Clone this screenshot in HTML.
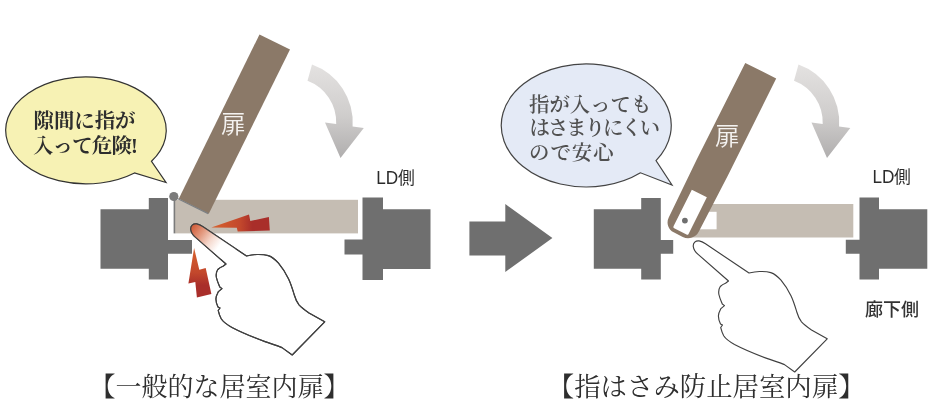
<!DOCTYPE html>
<html lang="ja">
<head>
<meta charset="utf-8">
<title>指はさみ防止居室内扉</title>
<style>
html,body{margin:0;padding:0;background:#fff;}
body{width:928px;height:404px;overflow:hidden;position:relative;}
svg{position:absolute;left:0;top:0;display:block;will-change:transform;}
.mincho{font-family:"Liberation Serif","Noto Serif CJK JP","Noto Serif CJK SC",serif;}
.gothic{font-family:"Liberation Sans","Noto Sans CJK JP","Noto Sans CJK SC",sans-serif;}
</style>
</head>
<body>
<svg width="928" height="404" viewBox="0 0 928 404">
<defs>
  <linearGradient id="gArrow" x1="0" y1="0" x2="0" y2="1">
    <stop offset="0" stop-color="#e4e2e1"/>
    <stop offset="0.55" stop-color="#cfcdcc"/>
    <stop offset="1" stop-color="#b0aeae"/>
  </linearGradient>
  <linearGradient id="gBolt1" x1="0" y1="0" x2="1" y2="0">
    <stop offset="0" stop-color="#d8632f"/>
    <stop offset="0.5" stop-color="#c2472c"/>
    <stop offset="0.7" stop-color="#a92e2a"/>
    <stop offset="1" stop-color="#a92e2a"/>
  </linearGradient>
  <linearGradient id="gBolt2" x1="0" y1="0" x2="0" y2="1">
    <stop offset="0" stop-color="#d8632f"/>
    <stop offset="0.5" stop-color="#c2472c"/>
    <stop offset="0.75" stop-color="#a92e2a"/>
    <stop offset="1" stop-color="#a92e2a"/>
  </linearGradient>
  <linearGradient id="gFinger" gradientUnits="userSpaceOnUse" x1="192" y1="228" x2="222" y2="250">
    <stop offset="0" stop-color="#d2603d"/>
    <stop offset="0.3" stop-color="#e39a80"/>
    <stop offset="0.6" stop-color="#f5d9ce"/>
    <stop offset="0.88" stop-color="#ffffff"/>
    <stop offset="1" stop-color="#ffffff"/>
  </linearGradient>
  <path id="hand" d="M190.8 229.6 C190.3 225.8 193.2 223.4 196.6 223.9 C199 224.3 201 225.4 203 226.8 L246.5 256 C250 255.2 253.5 254.6 257 254.5 C261 254.4 265 254.6 268.3 255.6 C272.5 257 275.5 259.8 278.5 263.2 C282.5 268 286 273.5 288.6 279 C291 284 292.6 289.5 294.3 295 C295.4 298.8 296.6 302 299 304.8 C302 308 305.5 310.5 309 313 L324.7 321.8 L292.2 355 L282 347.6 C277 345.5 270 343.4 265 341.6 C254 337.6 242.5 333 232 327.5 C227.5 325 223.4 322.3 221.2 318.8 C219.4 315.6 218.8 313 218.2 310.5 L220 308 L218 307 C216.6 304 215.9 301.5 215.9 299 C216 296.2 217.3 293.7 218.4 291.6 L222 288.6 L219.8 287 C218.6 284 217 280.5 216.4 277.5 C215.9 274.5 216.4 271.5 217.8 269.5 C219.6 267.6 221.2 266.8 223 266.2 L226 264 L195.6 237.4 C193 235.2 191.3 233 190.8 229.6 Z"/>
  <path id="doorShape" d="M-4.5 -16.6 L60 -17.6 L168 -17.4 L168 17.2 L60 17.4 L-3.5 16.6 A12 12 0 0 1 -15.5 4.6 V-5.6 A11 11 0 0 1 -4.5 -16.6 Z"/>
</defs>

<!-- ================= LEFT DIAGRAM ================= -->
<!-- walls -->
<g fill="#6f6f6f">
  <path d="M100.5 209.3H148.8V198H168V240H192V253.8H168V279.5H148.8V268.8H100.5Z"/>
  <path d="M362.5 197.5H383V209.3H430.5V269H383V280H362.5V254.5H344.5V239.5H362.5Z"/>
</g>
<!-- closed-door panel -->
<rect x="175" y="199.8" width="183" height="33.6" fill="#c5bdb3"/>
<!-- frame line -->
<path d="M174.4 197V233.4" stroke="#7b7b7b" stroke-width="1.6" fill="none"/>
<!-- open door -->
<polygon points="259.5,34.5 290,49.5 208.75,213.75 178.75,198.75" fill="#8b7968"/>
<path d="M174 196.6L178.5 199 208.2 213.6" stroke="#7d8084" stroke-width="1.3" fill="none"/>
<circle cx="173.8" cy="196.5" r="4.6" fill="#7b7b7b"/>
<text class="gothic" x="233.4" y="132.6" font-size="24.6" font-weight="350" fill="#fff" fill-opacity="0.9" text-anchor="middle">扉</text>
<!-- curved arrow -->
<path id="carrow" d="M312 64.5 A61.3 61.3 0 0 1 352.6 126.4 L363.8 128 L340.5 158 L325 122.5 L336.2 124 A44.5 44.5 0 0 0 307.5 80.8 Z" fill="url(#gArrow)"/>
<!-- bolts -->
<polygon points="211.3,227.4 249,214.4 250.3,221 268.9,217.1 269.8,230.6 237.7,231.4 236.8,227.7" fill="url(#gBolt1)"/>
<polygon points="194.1,248 199.3,269.7 205.7,268.1 211.4,293.9 196.9,297.6 195.3,282.1 188.4,283.4" fill="url(#gBolt2)"/>
<!-- hand -->
<use href="#hand" fill="#fff" stroke="#404040" stroke-width="1.15" stroke-linejoin="round"/>
<path d="M190.8 229.6 C190.3 225.8 193.2 223.4 196.6 223.9 C199 224.3 201 225.4 203 226.8 L236 249 L221 259 L195.6 237.4 C193 235.2 191.3 233 190.8 229.6 Z" fill="url(#gFinger)"/>
<use href="#hand" fill="none" stroke="#404040" stroke-width="1.15" stroke-linejoin="round"/>
<!-- bubble 1 -->
<path d="M151.5 161.3 A80.3 53.5 0 1 0 134.5 173 L166 182.5 Z" fill="#f7f2b4" stroke="#333" stroke-width="1.2" stroke-linejoin="miter"/>
<g class="mincho" font-size="20.4" font-weight="700" fill="#2e2e2e" text-anchor="middle">
  <text x="84.5" y="127.6">隙間に指が</text>
  <text x="85" y="152.6" letter-spacing="-0.75">入って危険!</text>
</g>
<g class="gothic" fill="#2b2b2b" font-weight="350"><text transform="translate(376.2 183.9) scale(1 1.12)" font-size="17.2">LD</text><text x="397.9" y="183.7" font-size="16.8" font-weight="400">側</text></g>
<text class="mincho" x="219.5" y="396" font-size="26" fill="#2e2e2e" text-anchor="middle">【一般的な居室内扉】</text>

<!-- ================= CENTER ARROW ================= -->
<polygon points="469.4,221.4 505.3,221.4 505.3,204 552.4,238 505.3,272 505.3,255.6 469.4,255.6" fill="#6f6f6f"/>

<!-- ================= RIGHT DIAGRAM ================= -->
<g fill="#6f6f6f">
  <path d="M593.8 209.3H641.2V198H660.8V240H673.2V253.8H660.8V279.5H641.2V268.8H593.8Z"/>
  <path d="M859.5 197.5H879V209.3H927.3V268.8H879V279.5H859.5V253.8H845.8V239.7H859.5Z"/>
</g>
<!-- closed door (light) -->
<path d="M690 204 H853.3 V237.5 H690 A11 11 0 0 1 679 226.5 V215 A11 11 0 0 1 690 204Z" fill="#c5bdb3"/>
<rect x="684" y="211.8" width="32.6" height="17.5" fill="#fff"/>
<!-- open door -->
<g transform="translate(685.6 221) rotate(-63.4)">
  <use href="#doorShape" fill="#8b7968"/>
  <path d="M-10.2 -8.4 H30.7 V8.4 H-10.2 A1.5 1.5 0 0 1 -11.7 6.9 V-6.9 A1.5 1.5 0 0 1 -10.2 -8.4Z" fill="#fff"/>
</g>
<circle cx="684.9" cy="220.6" r="2.9" fill="#6f6f6f"/>
<text class="gothic" x="727.2" y="144.7" font-size="24.6" font-weight="350" fill="#fff" fill-opacity="0.9" text-anchor="middle">扉</text>
<use href="#carrow" transform="translate(486.5 0)"/>
<use href="#hand" transform="translate(502.5 17)" fill="#fff" stroke="#404040" stroke-width="1.15" stroke-linejoin="round"/>
<!-- bubble 2 -->
<path d="M656 160.6 A85 61.5 0 1 0 640.5 172.8 L672 185 Z" fill="#e4eaf6" stroke="#444" stroke-width="1.2" stroke-linejoin="miter"/>
<g class="mincho" font-size="20.4" font-weight="600" fill="#505050">
  <text x="529" y="111.5">指が入っても</text>
  <text x="529.5" y="135" letter-spacing="-2">はさまりにくい</text>
  <text x="529" y="159.5" letter-spacing="1">ので安心</text>
</g>
<g class="gothic" fill="#2b2b2b" font-weight="350"><text transform="translate(872.4 183.4) scale(1 1.12)" font-size="17.2">LD</text><text x="894.1" y="183.2" font-size="16.8" font-weight="400">側</text></g>
<text class="gothic" x="865" y="315.8" font-size="18" font-weight="500" fill="#333">廊下側</text>
<text class="mincho" x="706.2" y="396.2" font-size="26.4" fill="#2e2e2e" text-anchor="middle">【指はさみ防止居室内扉】</text>
</svg>
</body>
</html>
